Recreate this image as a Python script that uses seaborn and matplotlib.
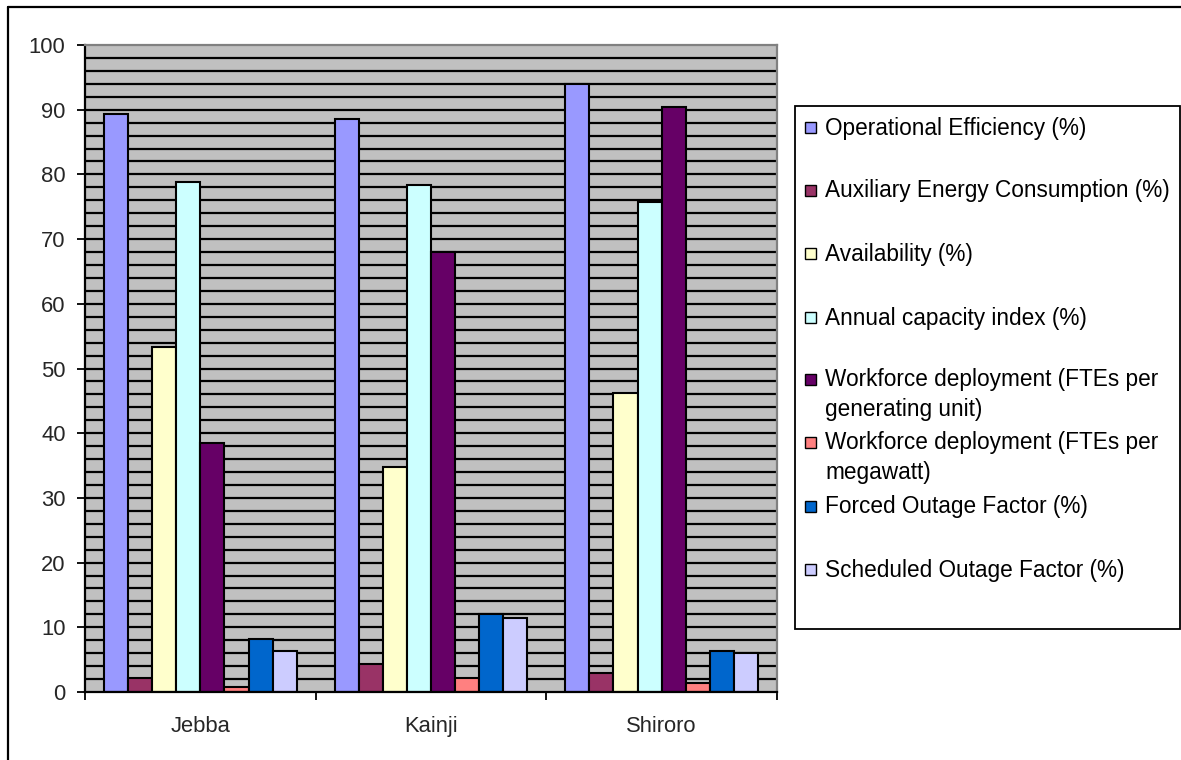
import matplotlib
matplotlib.use("Agg")
import matplotlib.pyplot as plt
from matplotlib.patches import Rectangle
from matplotlib.lines import Line2D
from matplotlib.ticker import FixedLocator
import seaborn as sns
import pandas as pd

stations = ["Jebba", "Kainji", "Shiroro"]
metrics = [
    "Operational Efficiency (%)",
    "Auxiliary Energy Consumption (%)",
    "Availability (%)",
    "Annual capacity index (%)",
    "Workforce deployment (FTEs per\ngenerating unit)",
    "Workforce deployment (FTEs per\nmegawatt)",
    "Forced Outage Factor (%)",
    "Scheduled Outage Factor (%)",
]
operational_efficiency = [89.3, 88.5, 93.9]
auxiliary_energy = [2.2, 4.3, 3.0]
availability = [53.3, 34.7, 46.2]
annual_capacity_index = [78.9, 78.4, 75.8]
fte_per_unit = [38.5, 68.0, 90.4]
fte_per_mw = [0.8, 2.2, 1.4]
forced_outage = [8.2, 12.1, 6.3]
scheduled_outage = [6.3, 11.5, 6.0]
yticks = [0, 10, 20, 30, 40, 50, 60, 70, 80, 90, 100]

series = [operational_efficiency, auxiliary_energy, availability,
          annual_capacity_index, fte_per_unit, fte_per_mw,
          forced_outage, scheduled_outage]
colors = ["#9999FF", "#993366", "#FFFFCC", "#CCFFFF",
          "#660066", "#FF8080", "#0066CC", "#CCCCFF"]

rows = []
for name, vals in zip(metrics, series):
    for st, v in zip(stations, vals):
        rows.append({"station": st, "metric": name, "value": v})
df = pd.DataFrame(rows)

sns.set_theme(style="white")
plt.rcParams["font.family"] = ["Liberation Sans", "DejaVu Sans"]
FS = 15.8
LEG_FS = 16.3

W, H = 1181, 760
fig = plt.figure(figsize=(W / 100, H / 100), dpi=100)
fig.patch.set_facecolor("white")

L, R, T, B = 85, 777, 45, 692
ax = fig.add_axes([L / W, 1 - B / H, (R - L) / W, (B - T) / H])
ax.set_facecolor("#C0C0C0")

# horizontal grid every 2 units, drawn beneath the bars
for y in range(2, 100, 2):
    ax.axhline(y, color="black", linewidth=1.6, zorder=0.5)

sns.barplot(data=df, x="station", y="value", hue="metric",
            hue_order=metrics, order=stations, palette=colors,
            saturation=1, width=0.836, gap=0, edgecolor="black",
            linewidth=1.5, errorbar=None, legend=False, ax=ax, zorder=2)

ax.set_xlim(-0.5, 2.5)
ax.set_ylim(0, 100)
ax.set_xlabel("")
ax.set_ylabel("")

ax.set_yticks(yticks)
ax.set_yticklabels([str(t) for t in yticks])
ax.tick_params(axis="y", which="major", length=6, width=1.3, color="black",
               direction="out", left=True, pad=8, labelsize=FS)
ax.set_xticks(range(len(stations)))
ax.set_xticklabels(stations)
ax.tick_params(axis="x", which="major", length=0, pad=17, labelsize=FS)
ax.xaxis.set_minor_locator(FixedLocator([-0.5, 0.5, 1.5, 2.5]))
ax.tick_params(axis="x", which="minor", length=5.5, width=1.3,
               color="black", direction="out", bottom=True)

for s in ["left", "bottom"]:
    ax.spines[s].set_color("black")
    ax.spines[s].set_linewidth(1.6)
for s in ["top", "right"]:
    ax.spines[s].set_color("#808080")
    ax.spines[s].set_linewidth(1.6)
ax.set_zorder(1)

# legend box with one fixed slot per series
lx0, ly0, lx1, ly1 = 795, 106, 1180, 629
fig.add_artist(Rectangle((lx0 / W, 1 - ly1 / H), (lx1 - lx0) / W,
                         (ly1 - ly0) / H, transform=fig.transFigure,
                         facecolor="white", edgecolor="black",
                         linewidth=1.3))
first_line = [127, 190, 253, 317, 379, 442, 506, 569]
for name, col, yc in zip(metrics, colors, first_line):
    fig.add_artist(Rectangle((805 / W, 1 - (yc + 5.5) / H), 11 / W, 11 / H,
                             transform=fig.transFigure, facecolor=col,
                             edgecolor="black", linewidth=1.0))
    fig.text(825 / W, 1 - (yc - 10.5) / H, name, ha="left", va="top",
             fontsize=LEG_FS, linespacing=1.35, color="black")

# outer chart frame
fig.add_artist(Line2D([8 / W, 8 / W], [0, 1 - 7 / H],
                      transform=fig.transFigure, color="black", linewidth=1.6))
fig.add_artist(Line2D([8 / W, 1], [1 - 7 / H, 1 - 7 / H],
                      transform=fig.transFigure, color="black", linewidth=1.6))

fig.savefig("out.png", dpi=100)
